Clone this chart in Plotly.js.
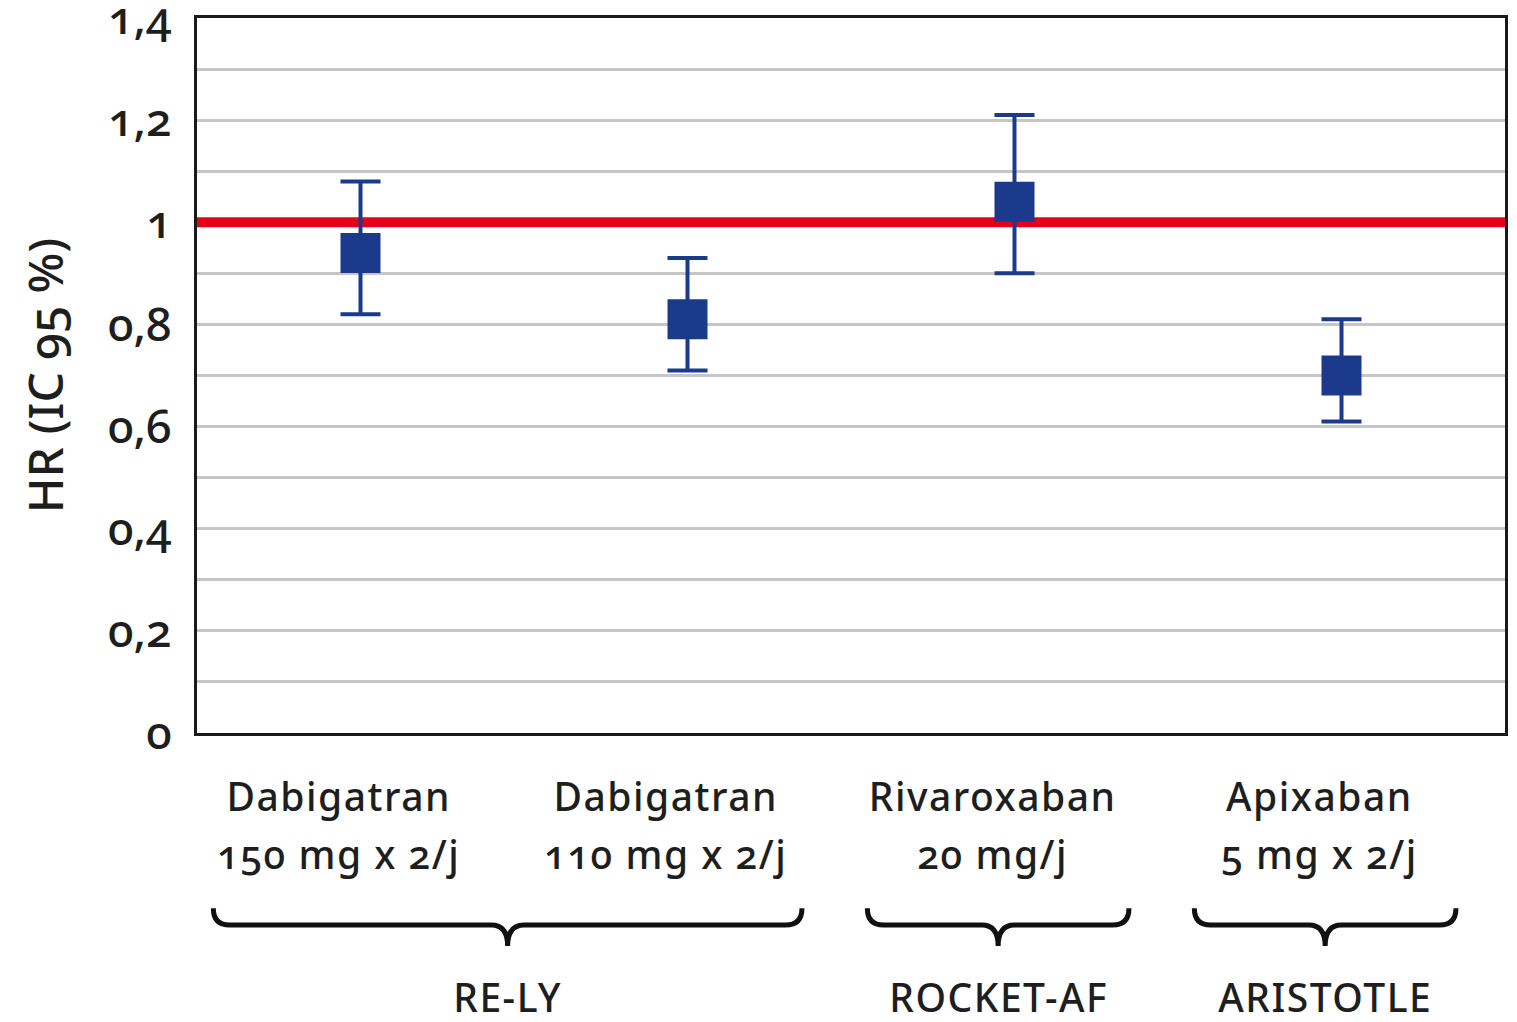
<!DOCTYPE html>
<html>
<head>
<meta charset="utf-8">
<script src="https://cdn.plot.ly/plotly-3.0.1.min.js"></script>
<style>
  html, body { margin: 0; padding: 0; background: #fff; }
  #chart { width: 1517px; height: 1022px; }
  #chart text { font-feature-settings: "onum" 1; }
  #chart .annotation-text { letter-spacing: 1.5px; }
</style>
</head>
<body>
<div id="chart"></div>
<script>
// ---- data ----
const drugNames = ['Dabigatran', 'Dabigatran', 'Rivaroxaban', 'Apixaban'];
const doses = ['150 mg x 2/j', '110 mg x 2/j', '20 mg/j', '5 mg x 2/j'];
const positions = [0, 1, 2, 3];
const hr = [0.94, 0.81, 1.04, 0.70];
const ciLow = [0.82, 0.71, 0.90, 0.61];
const ciHigh = [1.08, 0.93, 1.21, 0.81];
const groupNames = ['RE-LY', 'ROCKET-AF', 'ARISTOTLE'];
const groupFirst = [0, 2, 3];
const groupLast = [1, 2, 3];
const refValue = 1;
const xRange = [-0.5, 3.5];
const yTickVals = [0, 0.1, 0.2, 0.3, 0.4, 0.5, 0.6, 0.7, 0.8, 0.9, 1.0, 1.1, 1.2, 1.3, 1.4];
const yTickText = ['0', '', '0,2', '', '0,4', '', '0,6', '', '0,8', '', '1', '', '1,2', '', '1,4'];

// ---- styles ----
const navy = '#1b3a8c';
const txt = '#1e1e1e';
const font = 'Noto Sans, Open Sans, sans-serif';

const refTrace = {
  x: xRange, y: [refValue, refValue],
  type: 'scatter', mode: 'lines',
  line: { color: '#e2001a', width: 10 },
  hoverinfo: 'skip', showlegend: false, cliponaxis: true
};

const trace = {
  x: positions,
  y: hr,
  type: 'scatter',
  mode: 'markers',
  marker: { symbol: 'square', size: 40, color: navy },
  error_y: {
    type: 'data', symmetric: false,
    array: hr.map((v, i) => ciHigh[i] - v),
    arrayminus: hr.map((v, i) => v - ciLow[i]),
    color: navy, thickness: 4, width: 20
  },
  hoverinfo: 'skip',
  showlegend: false
};

const annotations = [];
positions.forEach((p, i) => {
  annotations.push({ x: p, y: -0.088, xref: 'x', yref: 'paper', xshift: -22,
    text: drugNames[i], showarrow: false, xanchor: 'center', yanchor: 'middle',
    font: { family: font, size: 39, color: txt, weight: 500 } });
  annotations.push({ x: p, y: -0.168, xref: 'x', yref: 'paper', xshift: -22,
    text: doses[i], showarrow: false, xanchor: 'center', yanchor: 'middle',
    font: { family: font, size: 39, color: txt, weight: 500 } });
});

const shapes = [];
const yt = -0.245, yh = -0.2685, yb = -0.298, r = 0.05;
groupNames.forEach((g, i) => {
  const x0 = positions[groupFirst[i]] - 0.45;
  const x1 = positions[groupLast[i]] + 0.35;
  const xm = (x0 + x1) / 2;
  const path = `M ${x0},${yt} Q ${x0},${yh} ${x0 + r},${yh} L ${xm - r},${yh} ` +
    `Q ${xm},${yh} ${xm},${yb} Q ${xm},${yh} ${xm + r},${yh} ` +
    `L ${x1 - r},${yh} Q ${x1},${yh} ${x1},${yt}`;
  shapes.push({ type: 'path', xref: 'x', yref: 'paper', path: path,
    line: { color: '#111', width: 5 } });
  annotations.push({ x: xm, y: -0.368, xref: 'x', yref: 'paper',
    text: g, showarrow: false, xanchor: 'center', yanchor: 'middle',
    font: { family: font, size: 39, color: txt, weight: 500 } });
});

const layout = {
  width: 1517, height: 1022,
  margin: { l: 197, r: 12, t: 18, b: 289, pad: 0 },
  paper_bgcolor: '#fff', plot_bgcolor: '#fff',
  showlegend: false,
  xaxis: {
    range: xRange, showgrid: false, zeroline: false, showticklabels: false,
    showline: true, mirror: true, linecolor: '#1a1a1a', linewidth: 3, fixedrange: true
  },
  yaxis: {
    range: [0, 1.4], tickmode: 'array', tickvals: yTickVals, ticktext: yTickText,
    showgrid: true, gridcolor: '#c6c6c6', gridwidth: 3,
    zeroline: false, showline: true, mirror: true, linecolor: '#1a1a1a', linewidth: 3,
    ticks: '', ticklabelstandoff: 13, ticklabeloverflow: 'allow',
    tickfont: { family: font, size: 46, color: txt, weight: 500 },
    title: { text: 'HR (IC 95 %)', standoff: 28, font: { family: font, size: 48, color: txt, weight: 500 } },
    fixedrange: true
  },
  shapes: shapes,
  annotations: annotations
};

Plotly.newPlot('chart', [refTrace, trace], layout, { displayModeBar: false, staticPlot: true });
</script>
</body>
</html>
